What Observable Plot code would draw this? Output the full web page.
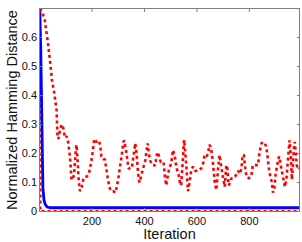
<!DOCTYPE html>
<html>
<head>
<meta charset="utf-8">
<script src="https://cdn.jsdelivr.net/npm/d3@7"></script>
<script src="https://cdn.jsdelivr.net/npm/@observablehq/plot@0.6"></script>
<style>
  html, body { margin: 0; padding: 0; background: #fff; }
  #chart svg { display: block; }
</style>
</head>
<body>
<div id="chart"></div>
<script>
// Series A (red dotted, oscillating): iteration, value
const redIter = [1,10,20,31,40,48,56,65,68,72,78,84,90,97,103,109,116,122,127,132,138,141,145,150,154,160,167,173,180,188,198,209,217,226,231,236,243,249,256,262,268,272,280,290,300,306,313,320,323,330,336,340,346,352,358,365,370,376,381,387,395,403,412,417,422,430,436,441,446,450,456,462,468,473,478,483,490,495,502,509,516,522,530,535,540,545,551,556,560,566,572,578,585,594,605,617,625,629,638,644,648,653,657,662,668,674,680,686,692,699,706,712,716,721,727,732,737,745,752,757,764,770,774,779,785,791,798,807,813,820,827,833,838,846,852,858,864,868,874,880,886,890,895,900,906,913,918,922,928,935,941,947,953,958,962,966,969,973,977,981,985,990];
const redVal = [0.70,0.69,0.66,0.59,0.52,0.45,0.41,0.35,0.27,0.25,0.28,0.30,0.29,0.255,0.26,0.24,0.19,0.11,0.11,0.13,0.21,0.23,0.18,0.10,0.07,0.08,0.11,0.12,0.12,0.13,0.175,0.25,0.24,0.245,0.23,0.19,0.18,0.18,0.14,0.105,0.08,0.07,0.07,0.065,0.11,0.15,0.19,0.24,0.245,0.21,0.17,0.147,0.15,0.15,0.19,0.235,0.2,0.13,0.1,0.12,0.15,0.175,0.235,0.2,0.175,0.16,0.16,0.158,0.19,0.205,0.19,0.17,0.17,0.17,0.12,0.09,0.13,0.15,0.166,0.212,0.19,0.15,0.13,0.10,0.09,0.16,0.247,0.2,0.15,0.07,0.1,0.14,0.155,0.14,0.14,0.149,0.17,0.195,0.19,0.21,0.23,0.22,0.2,0.16,0.1,0.074,0.14,0.195,0.16,0.12,0.085,0.16,0.15,0.09,0.1,0.115,0.114,0.12,0.13,0.14,0.13,0.15,0.195,0.195,0.14,0.117,0.115,0.12,0.16,0.16,0.16,0.16,0.2,0.235,0.24,0.235,0.225,0.2,0.15,0.12,0.1,0.065,0.08,0.13,0.16,0.19,0.17,0.146,0.12,0.085,0.11,0.18,0.245,0.19,0.11,0.16,0.21,0.24,0.2,0.158,0.145,0.15];

// Series B (blue solid)
const blueIter = [1,5,9,13,17,22,30,40,100,300,500,700,900,990];
const blueVal = [0.70,0.55,0.31,0.08,0.04,0.024,0.015,0.013,0.013,0.013,0.013,0.013,0.013,0.013];

// Series C (red dotted, drops to zero)
const zeroIter = [1,3,100,500,990];
const zeroVal = [0.70,0.001,0.001,0.001,0.001];

const xTicks = [200,400,600,800];
const yTicks = [0,0.1,0.2,0.3,0.4,0.5,0.6];

const toRows = (xs, ys) => xs.map((x, i) => ({x, y: ys[i]}));
const red = toRows(redIter, redVal);
const blue = toRows(blueIter, blueVal);
const zero = toRows(zeroIter, zeroVal);

const axisGray = "#7f7f7f";
const fmt = d => d === 0 ? "0" : d.toFixed(1);
const dotted = {stroke: "#ff0000", strokeWidth: 2.6, strokeDasharray: "3,3", strokeLinecap: "butt", strokeLinejoin: "miter", clip: true};

const chart = Plot.plot({
  width: 302,
  height: 242,
  marginLeft: 39,
  marginRight: 3,
  marginTop: 8,
  marginBottom: 31,
  style: {fontFamily: "'Liberation Sans', Arial, Helvetica, sans-serif", fontSize: "11px", color: "#111"},
  x: {domain: [0, 991]},
  y: {domain: [0, 0.7]},
  marks: [
    Plot.line(zero, {x: "x", y: "y", ...dotted}),
    Plot.line(blue, {x: "x", y: "y", stroke: "#0000ff", strokeWidth: 2.8, clip: true}),
    Plot.line(red, {x: "x", y: "y", ...dotted}),
    Plot.frame({stroke: axisGray}),
    // inward ticks
    Plot.axisX(xTicks, {anchor: "bottom", text: null, tickSize: 3, dy: -3, stroke: axisGray, label: null}),
    Plot.axisX(xTicks, {anchor: "top", text: null, tickSize: 3, dy: 3, stroke: axisGray, label: null}),
    Plot.axisY(yTicks, {anchor: "left", text: null, tickSize: 3, dx: 3, stroke: axisGray, label: null}),
    Plot.axisY(yTicks, {anchor: "right", text: null, tickSize: 3, dx: -3, stroke: axisGray, label: null}),
    // labels
    Plot.axisX(xTicks, {anchor: "bottom", tickSize: 0, tickPadding: 6, fill: "#111",
      label: "Iteration", labelAnchor: "center", labelArrow: "none", labelOffset: 27, fontSize: 11}),
    Plot.axisY(yTicks, {anchor: "left", tickSize: 0, tickPadding: 2.5, tickFormat: fmt, fill: "#111",
      label: "Normalized Hamming Distance", labelAnchor: "center", labelArrow: "none", labelOffset: 33, fontSize: 11})
  ]
});
document.getElementById("chart").appendChild(chart);
// enlarge axis label fonts
chart.querySelectorAll("g[aria-label='x-axis label'] text, g[aria-label='y-axis label'] text").forEach(t => {
  t.setAttribute("font-size", "14.5px");
  t.style.fontSize = "14.5px";
});
</script>
</body>
</html>
